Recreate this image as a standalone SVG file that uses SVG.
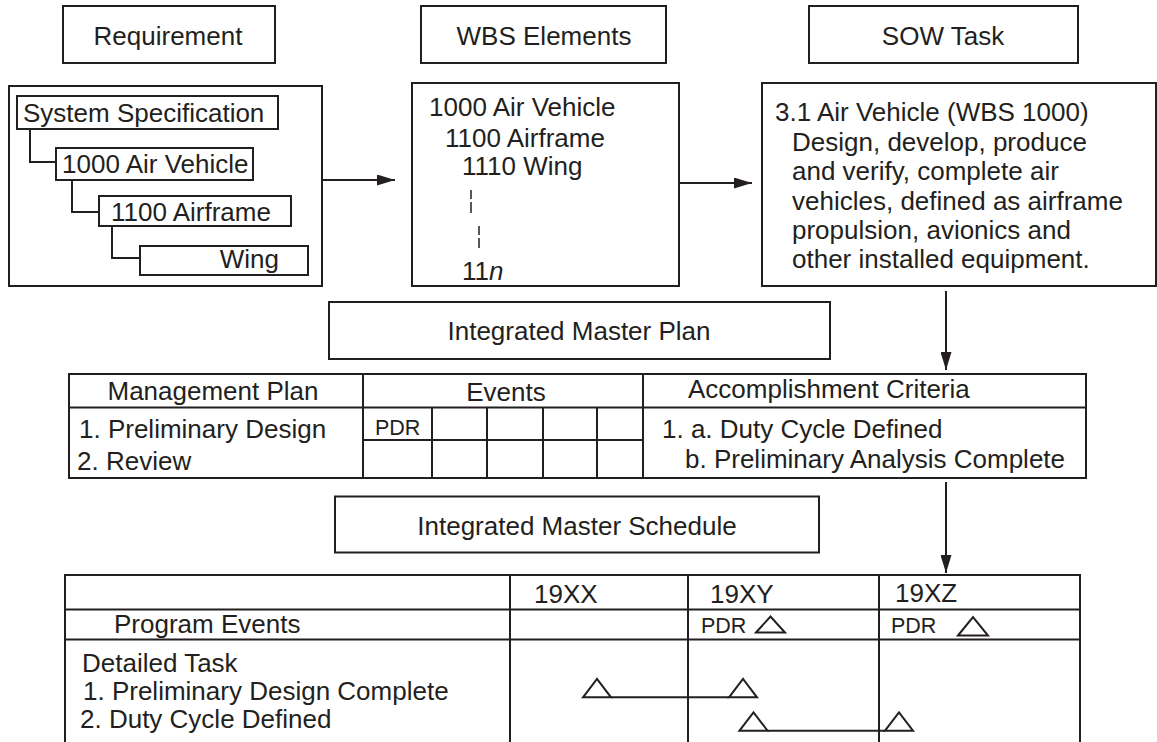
<svg xmlns="http://www.w3.org/2000/svg" width="1157" height="742" viewBox="0 0 1157 742">
<style>
  .box{fill:#fff;stroke:#231f20;stroke-width:2}
  .ln{fill:none;stroke:#231f20;stroke-width:2}
  .thin{fill:none;stroke:#231f20;stroke-width:1.5}
  .tri{fill:none;stroke:#231f20;stroke-width:2;stroke-linejoin:miter}
  text{font-family:"Liberation Sans",Arial,sans-serif;font-size:26px;fill:#231f20}
  .mid{text-anchor:middle}
  .end{text-anchor:end}
  .sm{font-size:21.5px}
</style>
<defs>
  <marker id="arr" viewBox="0 0 18 11" refX="18" refY="5.5" markerWidth="18" markerHeight="11" markerUnits="userSpaceOnUse" orient="auto">
    <path d="M0,0 L18,5.5 L0,11 z" fill="#231f20"/>
  </marker>
</defs>
<rect width="1157" height="742" fill="#fff"/>

<g id="hdr-requirement">
  <rect class="box" x="63" y="6" width="212" height="57"/>
  <text class="mid" x="168" y="45">Requirement</text>
</g>
<g id="hdr-wbs">
  <rect class="box" x="421" y="6" width="245" height="57"/>
  <text class="mid" x="544" y="45">WBS Elements</text>
</g>
<g id="hdr-sow">
  <rect class="box" x="809" y="6" width="269" height="57"/>
  <text class="mid" x="943" y="45">SOW Task</text>
</g>

<g id="requirement-tree">
  <rect class="box" x="9" y="86" width="313" height="200"/>
  <path class="ln" d="M30,129 V162 H56 M72,180 V212 H99 M112,226 V258 H140"/>
  <rect class="box" x="17" y="96" width="261" height="33"/>
  <text x="23" y="122">System Specification</text>
  <rect class="box" x="56" y="148" width="197" height="32"/>
  <text x="62" y="173">1000 Air Vehicle</text>
  <rect class="box" x="99" y="196" width="192" height="30"/>
  <text x="111" y="221">1100 Airframe</text>
  <rect class="box" x="140" y="246" width="168" height="29"/>
  <text class="end" x="279" y="268">Wing</text>
</g>

<g id="wbs-elements">
  <rect class="box" x="412" y="83" width="267" height="203"/>
  <text x="429" y="116">1000 Air Vehicle</text>
  <text x="445" y="147">1100 Airframe</text>
  <text x="462" y="175">1110 Wing</text>
  <path class="thin" d="M471,190 V199 M471,202 V213 M479,226 V235 M479,238 V248"/>
  <text x="462" y="280">11<tspan font-style="italic">n</tspan></text>
</g>

<g id="sow-task">
  <rect class="box" x="762" y="83" width="394" height="203"/>
  <text x="775" y="121">3.1 Air Vehicle (WBS 1000)</text>
  <text x="792" y="150.5">Design, develop, produce</text>
  <text x="792" y="180">and verify, complete air</text>
  <text x="792" y="209.5">vehicles, defined as airframe</text>
  <text x="792" y="239">propulsion, avionics and</text>
  <text x="792" y="268">other installed equipment.</text>
</g>

<g id="imp-title">
  <rect class="box" x="329" y="302" width="501" height="57"/>
  <text class="mid" x="579" y="340">Integrated Master Plan</text>
</g>

<g id="imp-table">
  <rect class="box" x="69" y="374" width="1017" height="104"/>
  <path class="ln" d="M69,407.5 H1086 M363,374 V478 M643,374 V478 M363,440 H643 M432,407.5 V478 M487,407.5 V478 M543,407.5 V478 M597,407.5 V478"/>
  <text class="mid" x="213" y="400">Management Plan</text>
  <text class="mid" x="506" y="401">Events</text>
  <text x="688" y="398">Accomplishment Criteria</text>
  <text x="79" y="438">1. Preliminary Design</text>
  <text x="77" y="470">2. Review</text>
  <text class="sm" x="375" y="435">PDR</text>
  <text x="662" y="438">1. a. Duty Cycle Defined</text>
  <text x="685" y="468">b. Preliminary Analysis Complete</text>
</g>

<g id="ims-title">
  <rect class="box" x="335" y="496.5" width="484" height="56"/>
  <text class="mid" x="577" y="535">Integrated Master Schedule</text>
</g>

<g id="ims-table">
  <path class="ln" d="M65,750 V575 H1080 V750 M65,609.5 H1080 M65,639.5 H1080 M510,575 V750 M688,575 V750 M879,575 V750"/>
  <text x="534" y="603">19XX</text>
  <text x="710" y="603">19XY</text>
  <text x="895" y="602">19XZ</text>
  <text x="114" y="633">Program Events</text>
  <text class="sm" x="701" y="633">PDR</text>
  <path class="tri" d="M756,632.5 L770.5,616.5 L785,632.5 Z"/>
  <text class="sm" x="891" y="633">PDR</text>
  <path class="tri" d="M958,635.5 L973,617 L988,635.5 Z"/>
  <text x="82" y="672">Detailed Task</text>
  <text x="83" y="700">1. Preliminary Design Complete</text>
  <text x="80" y="728">2. Duty Cycle Defined</text>
  <path class="tri" d="M583,697.3 L597,679 L611,697.3 Z"/>
  <path class="ln" d="M611,697.3 H729"/>
  <path class="tri" d="M729,697.3 L743,679 L757,697.3 Z"/>
  <path class="tri" d="M739.5,730.7 L753.5,712.3 L767.5,730.7 Z"/>
  <path class="ln" d="M767.5,730.7 H885"/>
  <path class="tri" d="M885,730.7 L899,712.3 L913,730.7 Z"/>
</g>

<g id="connectors">
  <line class="ln" x1="322" y1="180" x2="395" y2="180" marker-end="url(#arr)"/>
  <line class="ln" x1="679" y1="183" x2="752" y2="183" marker-end="url(#arr)"/>
  <line class="ln" x1="946" y1="291" x2="946" y2="370" marker-end="url(#arr)"/>
  <line class="ln" x1="946" y1="482" x2="946" y2="573" marker-end="url(#arr)"/>
</g>
</svg>
